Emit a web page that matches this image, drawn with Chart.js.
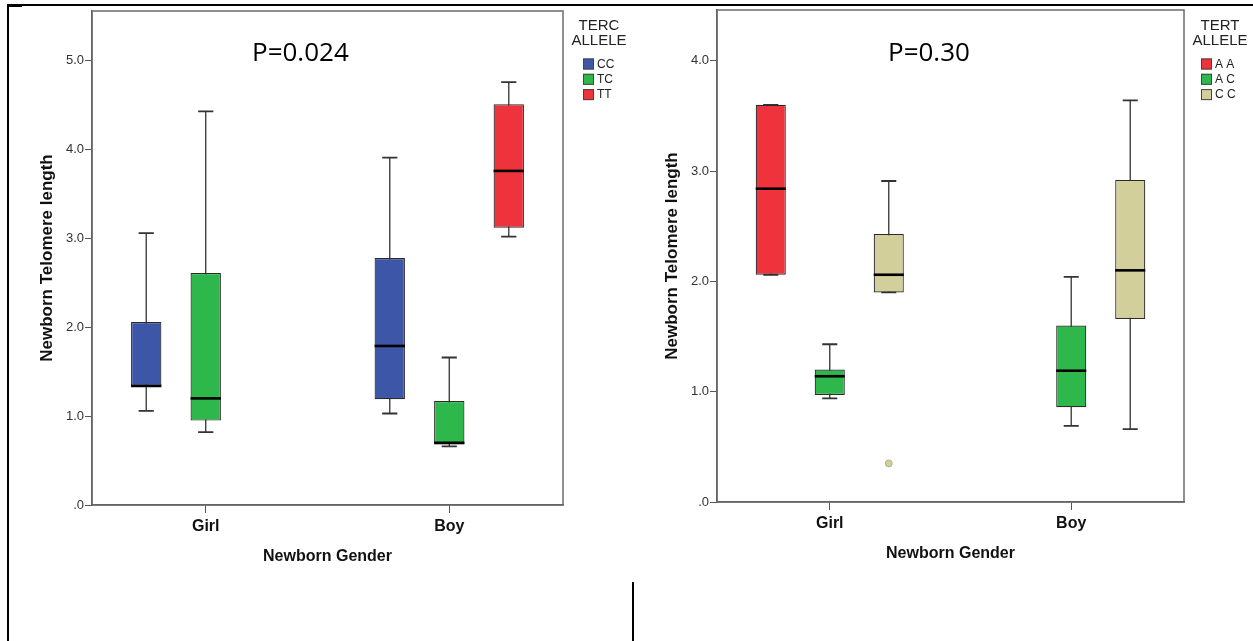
<!DOCTYPE html>
<html>
<head>
<meta charset="utf-8">
<script src="https://cdn.jsdelivr.net/npm/chart.js@4.4.0/dist/chart.umd.min.js"></script>
<style>
  html, body { margin: 0; padding: 0; background: #fff; }
  #wrap { position: relative; width: 1253px; height: 641px; overflow: hidden; }
  #wrap canvas { position: absolute; left: 0; top: 0; }
  .rule { position: absolute; background: #000; }
</style>
</head>
<body>
<div id="wrap">
  <div class="rule" style="left:7px;top:4px;width:1246px;height:1.5px"></div>
  <div class="rule" style="left:7px;top:4px;width:2px;height:637px"></div>
  <div class="rule" style="left:7px;top:4px;width:15px;height:2.5px"></div>
  <div class="rule" style="left:632px;top:582px;width:2px;height:59px"></div>
  <canvas id="tercChart" width="1253" height="641"></canvas>
  <canvas id="tertChart" width="1253" height="641"></canvas>
</div>
<script>
// categories on the x axis
const genders = ['Girl', 'Boy'];

// TERC panel: one row per allele, columns = Girl, Boy
const tercAlleles = ['CC', 'TC', 'TT'];
const tercLow    = [[1.06, 1.03], [0.82, 0.66], [null, 3.02]];
const tercQ1     = [[1.34, 1.19], [0.95, 0.68], [null, 3.12]];
const tercMedian = [[1.34, 1.79], [1.20, 0.70], [null, 3.76]];
const tercQ3     = [[2.06, 2.78], [2.61, 1.17], [null, 4.51]];
const tercHigh   = [[3.06, 3.91], [4.43, 1.66], [null, 4.76]];
const tercOutliers = [[[], []], [[], []], [[], []]];

// TERT panel
const tertAlleles = ['A A', 'A C', 'C C'];
const tertLow    = [[2.06, null], [0.94, 0.69], [1.90, 0.66]];
const tertQ1     = [[2.06, null], [0.97, 0.86], [1.90, 1.66]];
const tertMedian = [[2.84, null], [1.14, 1.19], [2.06, 2.10]];
const tertQ3     = [[3.60, null], [1.20, 1.60], [2.43, 2.92]];
const tertHigh   = [[3.60, null], [1.43, 2.04], [2.91, 3.64]];
const tertOutliers = [[[], []], [[], []], [[0.35], []]];

// axis ranges
const tercYMax = 5.56;
const tertYMax = 4.46;

const tercColors = ['#3d56a8', '#2eb84b', '#ef333c'];
const tertColors = ['#ef333c', '#2eb84b', '#d3cf9a'];

Chart.defaults.font.family = '"Liberation Sans", Arial, sans-serif';

function buildDatasets(alleles, colors, low, q1, med, q3, high, outl) {
  return alleles.map((name, a) => ({
    label: name,
    data: genders.map((g, i) => ({ x: i, y: q1[a][i] == null ? null : [q1[a][i], q3[a][i]] })),
    low: low[a], median: med[a], high: high[a], outliers: outl[a],
    backgroundColor: colors[a],
    borderColor: '#2b2b2b',
    borderWidth: 1.2,
    borderSkipped: false,
    categoryPercentage: 0.733,
    barPercentage: 0.51
  }));
}

// whiskers under the boxes, medians and outliers on top
const boxPlot = {
  id: 'boxPlot',
  beforeDatasetsDraw(chart) {
    const ctx = chart.ctx, ys = chart.scales.y;
    ctx.save();
    // frame round the plot area
    const a = chart.chartArea;
    ctx.strokeStyle = '#6b6b6b';
    ctx.lineWidth = 1.5;
    ctx.strokeRect(a.left, a.top, a.right - a.left, a.bottom - a.top);
    ctx.strokeStyle = '#333';
    chart.data.datasets.forEach((ds, d) => {
      chart.getDatasetMeta(d).data.forEach((bar, i) => {
        if (ds.low[i] == null) return;
        const cap = bar.width / 4;
        const yLo = ys.getPixelForValue(ds.low[i]);
        const yHi = ys.getPixelForValue(ds.high[i]);
        ctx.lineWidth = 1.3;
        ctx.beginPath();
        ctx.moveTo(bar.x, yLo); ctx.lineTo(bar.x, yHi);
        ctx.stroke();
        ctx.lineWidth = 1.8;
        ctx.beginPath();
        ctx.moveTo(bar.x - cap, yLo); ctx.lineTo(bar.x + cap, yLo);
        ctx.moveTo(bar.x - cap, yHi); ctx.lineTo(bar.x + cap, yHi);
        ctx.stroke();
      });
    });
    ctx.restore();
  },
  afterDatasetsDraw(chart) {
    const ctx = chart.ctx, ys = chart.scales.y;
    ctx.save();
    chart.data.datasets.forEach((ds, d) => {
      chart.getDatasetMeta(d).data.forEach((bar, i) => {
        if (ds.median[i] != null) {
          const ym = ys.getPixelForValue(ds.median[i]);
          ctx.strokeStyle = '#000';
          ctx.lineWidth = 2.6;
          ctx.beginPath();
          ctx.moveTo(bar.x - bar.width / 2, ym); ctx.lineTo(bar.x + bar.width / 2, ym);
          ctx.stroke();
        }
        ds.outliers[i].forEach(v => {
          ctx.beginPath();
          ctx.arc(bar.x, ys.getPixelForValue(v), 3.5, 0, Math.PI * 2);
          ctx.fillStyle = ds.backgroundColor;
          ctx.fill();
          ctx.strokeStyle = '#a9a47a';
          ctx.lineWidth = 0.8;
          ctx.stroke();
        });
      });
    });
    ctx.restore();
  }
};

// legend block and p-value note
const notes = {
  id: 'notes',
  afterDraw(chart, args, opts) {
    const ctx = chart.ctx;
    ctx.save();
    ctx.fillStyle = '#000';
    ctx.font = '26px "Open Sans", sans-serif';
    ctx.textAlign = 'left';
    ctx.textBaseline = 'middle';
    ctx.fillText(opts.pText, opts.pX, 54);

    ctx.fillStyle = '#222';
    ctx.font = '15px "Liberation Sans", Arial, sans-serif';
    ctx.textAlign = 'center';
    ctx.fillText(opts.title[0], opts.titleX, 26);
    ctx.fillText(opts.title[1], opts.titleX, 41);

    ctx.font = '12px "Liberation Sans", Arial, sans-serif';
    ctx.textAlign = 'left';
    chart.data.datasets.forEach((ds, d) => {
      const yy = 64 + d * 15.3;
      ctx.fillStyle = ds.backgroundColor;
      ctx.fillRect(opts.legendX, yy - 5.5, 11, 11);
      ctx.strokeStyle = '#444';
      ctx.lineWidth = 1;
      ctx.strokeRect(opts.legendX + 0.5, yy - 5, 10, 10);
      ctx.fillStyle = '#222';
      ctx.fillText(ds.label, opts.legendX + 14, yy + 0.5);
    });
    ctx.restore();
  }
};

function makeChart(id, datasets, yMax, pad, noteOpts) {
  return new Chart(document.getElementById(id), {
    type: 'bar',
    data: { datasets: datasets },
    plugins: [boxPlot, notes],
    options: {
      responsive: false,
      animation: false,
      events: [],
      layout: { padding: pad },
      plugins: {
        legend: { display: false },
        tooltip: { enabled: false },
        notes: noteOpts
      },
      scales: {
        x: {
          type: 'linear',
          min: -0.467,
          max: 1.467,
          offset: false,
          afterBuildTicks: s => { s.ticks = genders.map((g, i) => ({ value: i })); },
          afterFit: s => { s.height = 70; },
          ticks: {
            callback: v => genders[v],
            font: { size: 16, weight: 'bold' },
            color: '#111',
            padding: 4,
            autoSkip: false,
            maxRotation: 0
          },
          grid: { drawOnChartArea: false, tickLength: 8, color: '#555', offset: false },
          border: { color: '#555', width: 1.5 },
          title: {
            display: true, text: 'Newborn Gender', color: '#111',
            font: { size: 16, weight: 'bold' }, padding: { top: 0, bottom: 8.4 }
          }
        },
        y: {
          min: 0,
          max: yMax,
          afterBuildTicks: s => { s.ticks = s.ticks.filter(t => Number.isInteger(t.value)); },
          afterFit: s => { s.width = 72; },
          ticks: {
            stepSize: 1,
            callback: v => v === 0 ? '.0' : v.toFixed(1),
            font: { size: 13 },
            color: '#333',
            padding: 1
          },
          grid: { drawOnChartArea: false, tickLength: 7, color: '#555' },
          border: { color: '#555', width: 1.5 },
          title: {
            display: true, text: 'Newborn Telomere length', color: '#111',
            font: { size: 17, weight: 'bold' }, padding: { top: 17.5, bottom: 0 }
          }
        }
      }
    }
  });
}

makeChart('tercChart',
  buildDatasets(tercAlleles, tercColors, tercLow, tercQ1, tercMedian, tercQ3, tercHigh, tercOutliers),
  tercYMax,
  { left: 20, top: 11, right: 690, bottom: 66 },
  { pText: 'P=0.024', pX: 252, title: ['TERC', 'ALLELE'], titleX: 599, legendX: 583 });

makeChart('tertChart',
  buildDatasets(tertAlleles, tertColors, tertLow, tertQ1, tertMedian, tertQ3, tertHigh, tertOutliers),
  tertYMax,
  { left: 645, top: 10, right: 69, bottom: 69 },
  { pText: 'P=0.30', pX: 888, title: ['TERT', 'ALLELE'], titleX: 1220, legendX: 1201 });
</script>
</body>
</html>
